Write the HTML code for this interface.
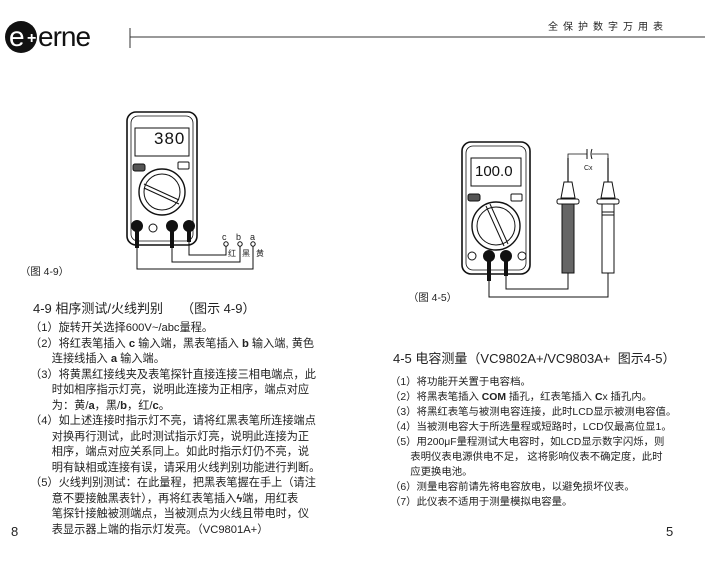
<!DOCTYPE html>
<html><head><meta charset="utf-8"><style>
html,body{margin:0;padding:0;background:#fff;}
body{width:705px;height:563px;position:relative;overflow:hidden;font-family:"Liberation Sans","Noto Sans CJK SC",sans-serif;color:#222;}
.t{position:absolute;white-space:nowrap;}
.b{font-size:10.4px;line-height:15.5px;}
.h{font-size:13px;}
</style></head><body>
<svg width="705" height="563" style="position:absolute;left:0;top:0" xmlns="http://www.w3.org/2000/svg">
<circle cx="21" cy="37" r="16" fill="#111"/>
<text x="9" y="46" font-family="Liberation Sans" font-size="28" fill="#fff" letter-spacing="-2">e</text>
<text x="27" y="43" font-family="Liberation Sans" font-size="16" font-weight="bold" fill="#fff">+</text>
<text x="38" y="46" font-family="Liberation Sans" font-size="28" fill="#111" letter-spacing="-1">erne</text>
<line x1="130" y1="28" x2="130" y2="48" stroke="#333" stroke-width="1"/>
<line x1="130" y1="37" x2="705" y2="37" stroke="#333" stroke-width="1"/>

<g transform="translate(127,112)" stroke="#111" fill="none">
<rect x="0" y="0" width="70" height="133" rx="9" stroke-width="1.6" fill="#fff"/>
<rect x="4" y="4" width="62" height="125" rx="7" stroke-width="0.8"/>
<rect x="8" y="16" width="54" height="28" stroke-width="1"/>
<rect x="6" y="52" width="12" height="7" rx="2" fill="#555"/>
<rect x="51" y="50" width="11" height="7" rx="1" stroke-width="1"/>
<circle cx="35" cy="80" r="23" stroke-width="1.4"/>
<circle cx="35" cy="80" r="18" stroke-width="1"/>
<line x1="17" y1="72" x2="52" y2="88" stroke-width="1"/>
<line x1="17" y1="76" x2="52" y2="92" stroke-width="1"/>
<circle cx="10" cy="114" r="5.5" fill="#111"/>
<circle cx="26" cy="116" r="4" stroke-width="1"/>
<circle cx="45" cy="114" r="5.5" fill="#111"/>
<circle cx="62" cy="114" r="5.5" fill="#111"/>
</g>
<text x="154" y="144" font-family="Liberation Sans" font-size="17" fill="#111" letter-spacing="1">380</text>
<g stroke="#111" fill="none">
<line x1="137" y1="226" x2="137" y2="248" stroke-width="4"/>
<line x1="172" y1="226" x2="172" y2="248" stroke-width="4"/>
<line x1="189" y1="226" x2="189" y2="242" stroke-width="4"/>
<polyline points="137,248 137,269 253,269 253,243" stroke-width="1"/>
<polyline points="172,248 172,262 240,262 240,243" stroke-width="1"/>
<polyline points="189,242 189,255 226,255 226,243" stroke-width="1"/>
<circle cx="226" cy="244" r="2.2" fill="#fff"/><circle cx="240" cy="244" r="2.2" fill="#fff"/><circle cx="253" cy="244" r="2.2" fill="#fff"/>
</g>
<text x="222" y="240" font-size="9" font-family="Liberation Sans" fill="#222">c</text>
<text x="236" y="240" font-size="9" font-family="Liberation Sans" fill="#222">b</text>
<text x="250" y="240" font-size="9" font-family="Liberation Sans" fill="#222">a</text>
<text x="228" y="256" font-size="8" font-family="Noto Sans CJK SC" fill="#222">红</text>
<text x="242" y="256" font-size="8" font-family="Noto Sans CJK SC" fill="#222">黑</text>
<text x="256" y="256" font-size="8" font-family="Noto Sans CJK SC" fill="#222">黄</text>

<g transform="translate(462,142)" stroke="#111" fill="none">
<rect x="0" y="0" width="68" height="132" rx="9" stroke-width="1.6" fill="#fff"/>
<rect x="4" y="4" width="60" height="124" rx="7" stroke-width="0.8"/>
<rect x="9" y="16" width="50" height="28" stroke-width="1"/>
<rect x="6" y="52" width="12" height="7" rx="2" fill="#555"/>
<rect x="49" y="52" width="11" height="7" rx="1" stroke-width="1"/>
<circle cx="34" cy="84" r="24" stroke-width="1.4"/>
<circle cx="34" cy="84" r="19" stroke-width="1"/>
<line x1="24" y1="64" x2="42" y2="104" stroke-width="1"/>
<line x1="28" y1="62" x2="46" y2="102" stroke-width="1"/>
<circle cx="10" cy="114" r="4" stroke-width="1"/>
<circle cx="27" cy="114" r="5.5" fill="#111"/>
<circle cx="44" cy="114" r="5.5" fill="#111"/>
<circle cx="60" cy="114" r="4" stroke-width="1"/>
</g>
<text x="475" y="176" font-family="Liberation Sans" font-size="15" fill="#111">100.0</text>
<g stroke="#111" fill="none">
<line x1="489" y1="256" x2="489" y2="281" stroke-width="4"/>
<line x1="506" y1="256" x2="506" y2="276" stroke-width="4"/>
<polyline points="489,281 489,297 608,297 608,273" stroke-width="1"/>
<polyline points="506,276 506,289 568,289 568,273" stroke-width="1"/>
<line x1="568" y1="158" x2="568" y2="182" stroke-width="1.2"/>
<polygon points="564,182 572,182 575,198 561,198" fill="#fff" stroke-width="1"/>
<rect x="557" y="199" width="22" height="5" rx="2" fill="#fff" stroke-width="1"/>
<rect x="562" y="204" width="12" height="69" fill="#666" stroke-width="1"/>
<line x1="608" y1="158" x2="608" y2="182" stroke-width="1.2"/>
<polygon points="604,182 612,182 615,198 601,198" fill="#fff" stroke-width="1"/>
<rect x="597" y="199" width="22" height="5" rx="2" fill="#fff" stroke-width="1"/>
<rect x="602" y="204" width="12" height="69" fill="#fff" stroke-width="1"/>
<line x1="602" y1="212" x2="614" y2="212" stroke-width="1"/>
<line x1="602" y1="215" x2="614" y2="215" stroke-width="1"/>
<polyline points="568,158 568,154 587,154" stroke-width="0.8"/>
<polyline points="592,154 608,154 608,158" stroke-width="0.8"/>
<line x1="587" y1="149" x2="587" y2="159" stroke-width="1"/>
<path d="M592,149 Q590,154 592,159" stroke-width="1"/>
</g>
<text x="584" y="170" font-size="7" font-family="Liberation Sans" fill="#222">Cx</text>
</svg>

<div class="t" style="left:548px;top:18px;font-size:10px;letter-spacing:5px;">全保护数字万用表</div>
<div class="t b" style="left:20px;top:265px;">（图 4-9）</div>
<div class="t b" style="left:408px;top:291px;">（图 4-5）</div>

<div class="t h" style="left:33px;top:298px;">4-9 相序测试/火线判别 &nbsp; &nbsp; （图示 4-9）</div>
<div class="t b" style="left:30px;top:321px;font-size:11.2px;">
（1）旋转开关选择600V~/abc量程。<br>
（2）将红表笔插入 <b>c</b> 输入端，黑表笔插入 <b>b</b> 输入端, 黄色<br>
&nbsp; &nbsp; &nbsp; &nbsp;连接线插入 <b>a</b> 输入端。<br>
（3）将黄黑红接线夹及表笔探针直接连接三相电端点，此<br>
&nbsp; &nbsp; &nbsp; &nbsp;时如相序指示灯亮，说明此连接为正相序，端点对应<br>
&nbsp; &nbsp; &nbsp; &nbsp;为：黄/<b>a</b>，黑/<b>b</b>，红/<b>c</b>。<br>
（4）如上述连接时指示灯不亮，请将红黑表笔所连接端点<br>
&nbsp; &nbsp; &nbsp; &nbsp;对换再行测试，此时测试指示灯亮，说明此连接为正<br>
&nbsp; &nbsp; &nbsp; &nbsp;相序，端点对应关系同上。如此时指示灯仍不亮，说<br>
&nbsp; &nbsp; &nbsp; &nbsp;明有缺相或连接有误，请采用火线判别功能进行判断。<br>
（5）火线判别测试：在此量程，把黑表笔握在手上（请注<br>
&nbsp; &nbsp; &nbsp; &nbsp;意不要接触黑表针），再将红表笔插入<b>ϟ</b>端，用红表<br>
&nbsp; &nbsp; &nbsp; &nbsp;笔探针接触被测端点，当被测点为火线且带电时，仪<br>
&nbsp; &nbsp; &nbsp; &nbsp;表显示器上端的指示灯发亮。（VC9801A+）
</div>
<div class="t" style="left:11px;top:524px;font-size:13px;">8</div>

<div class="t h" style="left:393px;top:348px;">4-5 电容测量（VC9802A+/VC9803A+ &nbsp;图示4-5）</div>
<div class="t b" style="left:390px;top:375px;line-height:15px;">
（1）将功能开关置于电容档。<br>
（2）将黑表笔插入 <b>COM</b> 插孔，红表笔插入 <b>C</b>x 插孔内。<br>
（3）将黑红表笔与被测电容连接，此时LCD显示被测电容值。<br>
（4）当被测电容大于所选量程或短路时，LCD仅最高位显1。<br>
（5）用200μF量程测试大电容时，如LCD显示数字闪烁，则<br>
&nbsp; &nbsp; &nbsp; &nbsp;表明仪表电源供电不足， 这将影响仪表不确定度，此时<br>
&nbsp; &nbsp; &nbsp; &nbsp;应更换电池。<br>
（6）测量电容前请先将电容放电，以避免损坏仪表。<br>
（7）此仪表不适用于测量模拟电容量。
</div>
<div class="t" style="left:666px;top:524px;font-size:13px;">5</div>
</body></html>
